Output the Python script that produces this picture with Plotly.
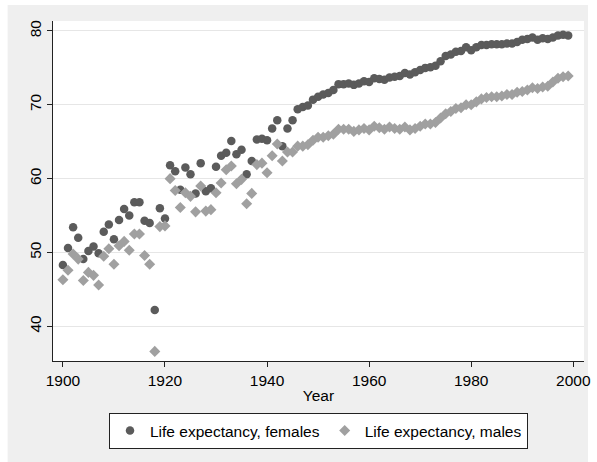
import plotly.graph_objects as go

# U.S. life expectancy at birth, 1900-1999
years = list(range(1900, 2000))

le_female = [
    48.3, 50.6, 53.4, 52.0, 49.1, 50.2, 50.8, 49.9, 52.8, 53.8,
    51.8, 54.4, 55.9, 55.0, 56.8, 56.8, 54.3, 54.0, 42.2, 56.0,
    54.6, 61.8, 61.0, 58.5, 61.5, 60.6, 58.0, 62.1, 58.3, 58.7,
    61.6, 63.1, 63.5, 65.1, 63.3, 63.9, 60.6, 62.4, 65.3, 65.4,
    65.2, 66.8, 67.9, 64.4, 66.8, 67.9, 69.4, 69.7, 69.9, 70.7,
    71.1, 71.4, 71.6, 72.0, 72.8, 72.8, 72.9, 72.7, 72.9, 73.2,
    73.1, 73.6, 73.5, 73.4, 73.7, 73.8, 73.9, 74.3, 74.1, 74.4,
    74.7, 75.0, 75.1, 75.3, 75.9, 76.6, 76.8, 77.2, 77.3, 77.8,
    77.4, 77.8, 78.1, 78.1, 78.2, 78.2, 78.2, 78.3, 78.3, 78.5,
    78.8, 78.9, 79.1, 78.8, 79.0, 78.9, 79.1, 79.4, 79.5, 79.4,
]

le_male = [
    46.3, 47.6, 49.8, 49.1, 46.2, 47.3, 46.9, 45.6, 49.5, 50.5,
    48.4, 50.9, 51.5, 50.3, 52.5, 52.5, 49.6, 48.4, 36.6, 53.5,
    53.6, 60.0, 58.4, 56.1, 58.1, 57.6, 55.5, 59.0, 55.6, 55.8,
    58.1, 59.4, 61.2, 61.7, 59.3, 59.9, 56.6, 58.0, 61.9, 62.1,
    60.8, 63.1, 64.7, 62.4, 63.6, 63.6, 64.4, 64.4, 64.6, 65.2,
    65.6, 65.6, 65.8, 66.0, 66.7, 66.7, 66.7, 66.4, 66.6, 66.8,
    66.6, 67.1, 66.9, 66.7, 67.0, 66.8, 66.7, 67.0, 66.6, 66.8,
    67.1, 67.4, 67.4, 67.6, 68.2, 68.8, 69.1, 69.5, 69.6, 70.0,
    70.0, 70.4, 70.8, 71.0, 71.1, 71.1, 71.2, 71.4, 71.4, 71.7,
    71.8, 72.0, 72.3, 72.2, 72.4, 72.5, 73.1, 73.6, 73.8, 73.9,
]

x_ticks = [1900, 1920, 1940, 1960, 1980, 2000]
y_ticks = [40, 50, 60, 70, 80]

FONT = "Liberation Sans, Arial, Helvetica, sans-serif"
FEMALE_COLOR = "#5b5b5b"
MALE_COLOR = "#a0a0a0"
BG_GRAY = "#efefef"

fig = go.Figure()

fig.add_trace(go.Scatter(
    x=years, y=le_female, mode="markers",
    name="Life expectancy, females",
    marker=dict(symbol="circle", size=8.5, color=FEMALE_COLOR, line=dict(width=0)),
))
fig.add_trace(go.Scatter(
    x=years, y=le_male, mode="markers",
    name="Life expectancy, males",
    marker=dict(symbol="diamond", size=8.5, color=MALE_COLOR, line=dict(width=0)),
))

# plot area occupies px 53..591 horizontally and 21..361 vertically
L, R, T, B = 53, 6, 21, 101
W, H = 597, 462
pw, ph = W - L - R, H - T - B


def px_x(p):
    return (p - L) / pw


def px_y(p):
    return (H - B - p) / ph


# light gray graph region with a thin white edge, white plot region on top
fig.add_shape(type="rect", xref="paper", yref="paper", layer="below",
              x0=px_x(7), x1=px_x(595), y0=px_y(462), y1=px_y(5),
              fillcolor=BG_GRAY, line=dict(width=0))
fig.add_shape(type="rect", xref="paper", yref="paper", layer="below",
              x0=0, x1=1, y0=0, y1=1,
              fillcolor="white", line=dict(width=0))

fig.update_layout(
    width=W, height=H,
    margin=dict(l=L, r=R, t=T, b=B),
    paper_bgcolor="white",
    plot_bgcolor="white",
    font=dict(family=FONT, size=15.5, color="#000000"),
    showlegend=True,
    legend=dict(
        orientation="h",
        x=0.5, xanchor="center",
        y=px_y(413), yanchor="top",
        bgcolor="white",
        bordercolor="#222222", borderwidth=1,
        font=dict(family=FONT, size=15.5, color="#000000"),
        itemwidth=30,
        tracegroupgap=0,
    ),
    xaxis=dict(
        range=[1898.06, 2002.1],
        tickvals=x_ticks,
        ticks="outside", ticklen=5, tickcolor="#222222",
        ticklabeloverflow="allow",
        tickfont=dict(size=15.5),
        showline=True, linecolor="#222222", linewidth=1,
        showgrid=False, zeroline=False,
        title=dict(text="Year", standoff=2, font=dict(size=15.5)),
    ),
    yaxis=dict(
        range=[35.3, 81.35],
        tickvals=y_ticks,
        tickangle=-90,
        tickfont=dict(size=15.5),
        ticks="outside", ticklen=5, tickcolor="#222222",
        showline=True, linecolor="#222222", linewidth=1,
        showgrid=True, gridcolor="#e6e6e6", gridwidth=1,
        zeroline=False,
    ),
)

fig.write_html("out.html")
